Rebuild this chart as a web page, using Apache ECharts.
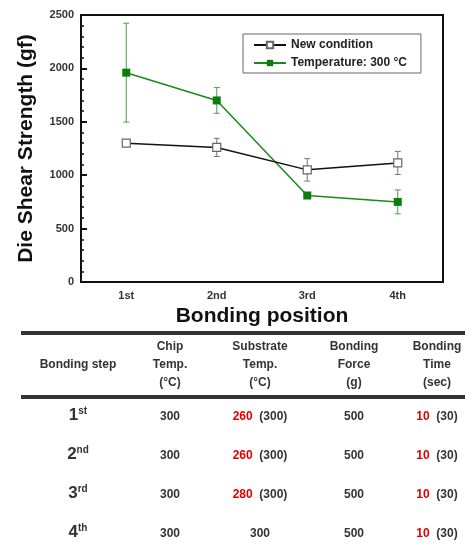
<!DOCTYPE html>
<html>
<head>
<meta charset="utf-8">
<script src="https://cdn.jsdelivr.net/npm/echarts@6/dist/echarts.min.js"></script>
<style>
  html, body { margin: 0; padding: 0; background: #fff; }
  #main { width: 465px; height: 549px; }
</style>
</head>
<body>
<div id="main"></div>
<script>
// chart data
var positions = ['1st', '2nd', '3rd', '4th'];
var newCond = [1300, 1260, 1050, 1115];
var newCondErr = [25, 85, 105, 108];
var temp300 = [1960, 1700, 810, 750];
var temp300Err = [463, 120, 15, 112];

// table data
var stepNum = ['1', '2', '3', '4'];
var stepSup = ['st', 'nd', 'rd', 'th'];
var chipTemp = [300, 300, 300, 300];
var subTemp = [260, 260, 280, 300];
var subTempRef = [300, 300, 300, null];
var bondForce = [500, 500, 500, 500];
var bondTime = [10, 10, 10, 10];
var bondTimeRef = [30, 30, 30, 30];
var headers = ['Bonding step', 'Chip\nTemp.\n(°C)', 'Substrate\nTemp.\n(°C)', 'Bonding\nForce\n(g)', 'Bonding\nTime\n(sec)'];

(function () {
    var FONT = '"Liberation Sans", Arial, sans-serif';
    var chart = echarts.init(document.getElementById('main'));

    function errData(vals, errs) {
        return vals.map(function (v, i) { return [i, v, errs[i]]; });
    }

    function errRender(color) {
        return function (params, api) {
            var x = api.value(0), y = api.value(1), e = api.value(2);
            var top = api.coord([x, y + e]);
            var bot = api.coord([x, y - e]);
            var w = 3;
            var st = { stroke: color, lineWidth: 1 };
            return {
                type: 'group',
                children: [
                    { type: 'line', shape: { x1: top[0], y1: top[1], x2: bot[0], y2: bot[1] }, style: st },
                    { type: 'line', shape: { x1: top[0] - w, y1: top[1], x2: top[0] + w, y2: top[1] }, style: st },
                    { type: 'line', shape: { x1: bot[0] - w, y1: bot[1], x2: bot[0] + w, y2: bot[1] }, style: st }
                ]
            };
        };
    }

    // table layout
    var colX = [78, 170, 260, 354, 437];
    var rowY = [417, 456, 495, 534];
    var graphics = [];
    graphics.push({ type: 'rect', shape: { x: 21, y: 331, width: 444, height: 4 }, style: { fill: '#333' } });
    graphics.push({ type: 'rect', shape: { x: 21, y: 395, width: 444, height: 4 }, style: { fill: '#333' } });

    function txt(x, y, text, extra) {
        var style = {
            text: text, x: x, y: y,
            align: 'center', verticalAlign: 'middle',
            textAlign: 'center', textVerticalAlign: 'middle',
            font: 'bold 12px ' + FONT, fill: '#333', lineHeight: 18
        };
        if (extra) { for (var k in extra) style[k] = extra[k]; }
        graphics.push({ type: 'text', style: style });
    }

    headers.forEach(function (h, i) { txt(colX[i], 365, h); });

    var rich = {
        big: { fontSize: 17, fontWeight: 'bold', fontFamily: FONT, fill: '#333', color: '#333' },
        sup: { fontSize: 10, fontWeight: 'bold', fontFamily: FONT, fill: '#333', color: '#333', verticalAlign: 'top' },
        r: { fontSize: 12, fontWeight: 'bold', fontFamily: FONT, fill: '#e00000', color: '#e00000' },
        n: { fontSize: 12, fontWeight: 'bold', fontFamily: FONT, fill: '#333', color: '#333' }
    };

    rowY.forEach(function (y, i) {
        txt(colX[0], y - 2, '{big|' + stepNum[i] + '}{sup|' + stepSup[i] + '}', { rich: rich, lineHeight: null });
        txt(colX[1], y, String(chipTemp[i]));
        if (subTempRef[i] != null && subTempRef[i] !== subTemp[i]) {
            txt(colX[2], y, '{r|' + subTemp[i] + '}{n|  (' + subTempRef[i] + ')}', { rich: rich });
        } else {
            txt(colX[2], y, String(subTemp[i]));
        }
        txt(colX[3], y, String(bondForce[i]));
        txt(colX[4], y, '{r|' + bondTime[i] + '}{n|  (' + bondTimeRef[i] + ')}', { rich: rich });
    });

    var option = {
        backgroundColor: '#fff',
        animation: false,
        textStyle: { fontFamily: FONT },
        grid: {
            left: 81, right: 22, top: 15, bottom: 267,
            show: true, borderColor: '#111', borderWidth: 2
        },
        legend: {
            orient: 'vertical',
            left: 243, top: 34,
            padding: [5, 14, 4, 10],
            itemGap: 6,
            itemWidth: 32, itemHeight: 8,
            borderColor: '#666', borderWidth: 1,
            data: ['New condition', 'Temperature: 300 °C'],
            textStyle: { fontSize: 12, fontWeight: 'bold', color: '#222', fontFamily: FONT }
        },
        xAxis: {
            type: 'category',
            data: positions,
            boundaryGap: true,
            name: 'Bonding position',
            nameLocation: 'middle',
            nameGap: 24,
            nameTextStyle: { fontSize: 21, fontWeight: 'bold', color: '#111', fontFamily: FONT },
            axisLine: { lineStyle: { color: '#111', width: 2 } },
            axisTick: { inside: true, alignWithLabel: true, length: 5, lineStyle: { color: '#111', width: 2 } },
            axisLabel: { fontSize: 11, fontWeight: 'bold', color: '#333', margin: 8 },
            splitLine: { show: false }
        },
        yAxis: {
            type: 'value',
            min: 0, max: 2500, interval: 500,
            name: 'Die Shear Strength (gf)',
            nameLocation: 'middle',
            nameGap: 44,
            nameTextStyle: { fontSize: 21, fontWeight: 'bold', color: '#111', fontFamily: FONT },
            axisLine: { show: true, lineStyle: { color: '#111', width: 2 } },
            axisTick: { show: true, inside: true, length: 6, lineStyle: { color: '#111', width: 2 } },
            minorTick: { show: true, splitNumber: 5, length: 3, lineStyle: { color: '#111', width: 1.5 } },
            axisLabel: {
                fontSize: 11, fontWeight: 'bold', color: '#333', margin: 7,
                formatter: function (v) { return String(v); }
            },
            splitLine: { show: false }
        },
        graphic: graphics,
        series: [
            {
                name: 'errNew', type: 'custom',
                renderItem: errRender('#777'),
                encode: { x: 0, y: 1 },
                data: errData(newCond, newCondErr), z: 1
            },
            {
                name: 'errTemp', type: 'custom',
                renderItem: errRender('#4c9c4c'),
                encode: { x: 0, y: 1 },
                data: errData(temp300, temp300Err), z: 1
            },
            {
                name: 'Temperature: 300 °C', type: 'line',
                data: temp300,
                symbol: 'rect', symbolSize: 8,
                itemStyle: { color: '#0a7d0a' },
                lineStyle: { color: '#1a8a1a', width: 1.5 },
                z: 3
            },
            {
                name: 'New condition', type: 'line',
                data: newCond,
                symbol: 'rect', symbolSize: 8,
                itemStyle: { color: '#fff', borderColor: '#666', borderWidth: 1.2 },
                lineStyle: { color: '#111', width: 1.5 },
                z: 4
            }
        ]
    };

    chart.setOption(option);
})();
</script>
</body>
</html>
